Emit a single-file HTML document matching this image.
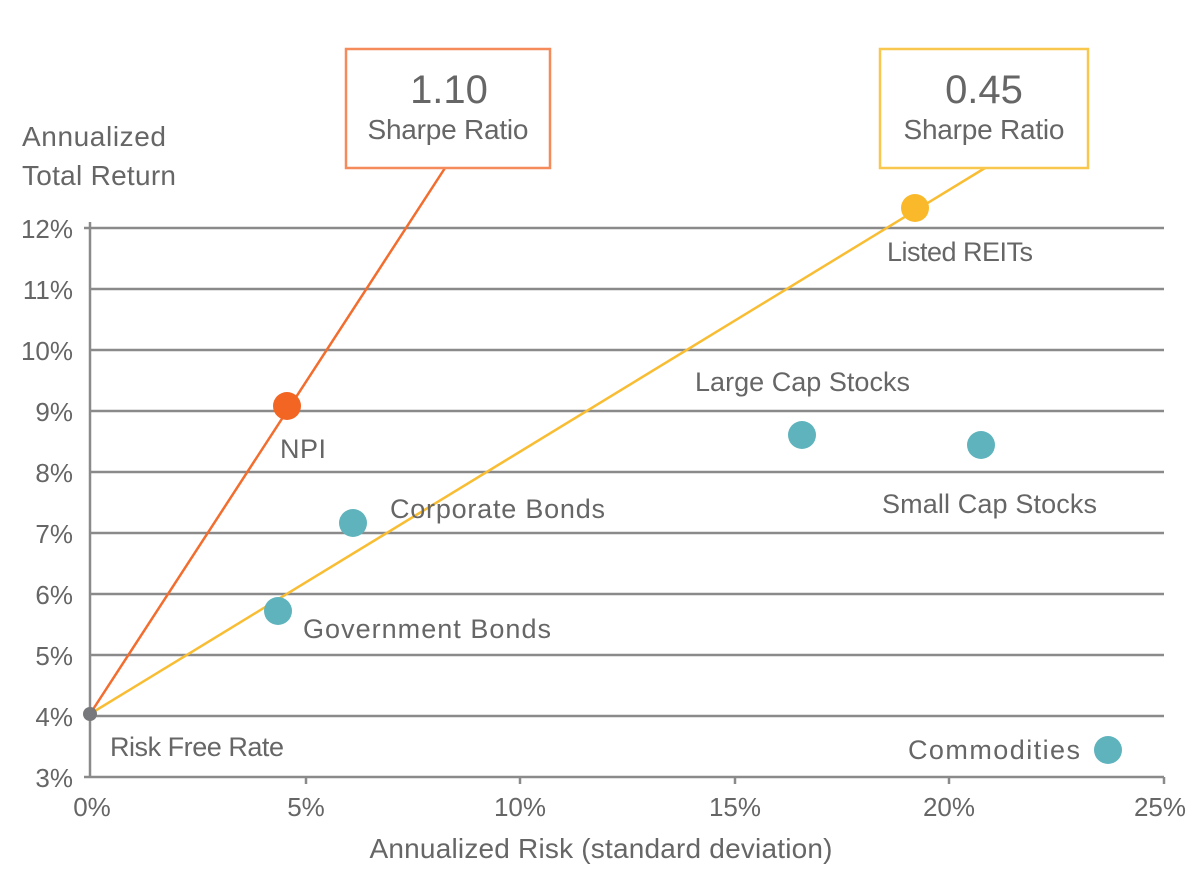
<!DOCTYPE html>
<html><head><meta charset="utf-8"><style>
html,body{margin:0;padding:0;background:#fff;}
svg text{font-family:"Liberation Sans",sans-serif;fill:#666;}
</style></head><body>
<svg width="1200" height="880" viewBox="0 0 1200 880" xmlns="http://www.w3.org/2000/svg">
<g stroke="#8a8a8a" stroke-width="2.5">
<line x1="90" y1="228" x2="1164" y2="228"/>
<line x1="90" y1="289" x2="1164" y2="289"/>
<line x1="90" y1="350" x2="1164" y2="350"/>
<line x1="90" y1="411" x2="1164" y2="411"/>
<line x1="90" y1="472" x2="1164" y2="472"/>
<line x1="90" y1="533" x2="1164" y2="533"/>
<line x1="90" y1="594" x2="1164" y2="594"/>
<line x1="90" y1="655" x2="1164" y2="655"/>
<line x1="90" y1="716" x2="1164" y2="716"/>
<line x1="90" y1="777" x2="1164" y2="777"/>
<line x1="90" y1="222" x2="90" y2="777"/>
<line x1="84" y1="228" x2="90" y2="228"/>
<line x1="84" y1="777" x2="90" y2="777"/>
<line x1="306" y1="777" x2="306" y2="784"/>
<line x1="520" y1="777" x2="520" y2="784"/>
<line x1="735" y1="777" x2="735" y2="784"/>
<line x1="949" y1="777" x2="949" y2="784"/>
<line x1="1164" y1="777" x2="1164" y2="784"/>
</g>
<g font-size="26" text-anchor="end">
<text x="73" y="238">12%</text><text x="73" y="299">11%</text><text x="73" y="360">10%</text>
<text x="73" y="421">9%</text><text x="73" y="482">8%</text><text x="73" y="543">7%</text>
<text x="73" y="604">6%</text><text x="73" y="665">5%</text><text x="73" y="726">4%</text>
<text x="73" y="787">3%</text>
</g>
<g font-size="26" text-anchor="middle">
<text x="92" y="816">0%</text><text x="306" y="816">5%</text><text x="520" y="816">10%</text>
<text x="735" y="816">15%</text><text x="949" y="816">20%</text><text x="1160" y="816">25%</text>
<text x="601" y="858" font-size="28" textLength="463">Annualized Risk (standard deviation)</text>
</g>
<text x="22" y="146" font-size="28" textLength="144">Annualized</text>
<text x="22" y="185" font-size="28" textLength="154">Total Return</text>
<line x1="90" y1="714" x2="445" y2="168" stroke="#f26d2e" stroke-width="2.5"/>
<line x1="90" y1="714" x2="985" y2="168" stroke="#f8bd33" stroke-width="2.5"/>
<rect x="346" y="49" width="204" height="119" fill="#fff" stroke="#f58a5a" stroke-width="2.5"/>
<rect x="880" y="49" width="208" height="119" fill="#fff" stroke="#f8c84e" stroke-width="2.5"/>
<g text-anchor="middle">
<text x="449" y="103" font-size="40">1.10</text>
<text x="448" y="139" font-size="28" textLength="161">Sharpe Ratio</text>
<text x="984" y="103" font-size="40">0.45</text>
<text x="984" y="139" font-size="28" textLength="161">Sharpe Ratio</text>
</g>
<circle cx="90" cy="714" r="7" fill="#77787b"/>
<circle cx="287" cy="406" r="14" fill="#f26522"/>
<circle cx="915" cy="208" r="14" fill="#f9b92b"/>
<g fill="#5fb3bd">
<circle cx="802" cy="435" r="14"/><circle cx="981" cy="445" r="14"/>
<circle cx="353" cy="523" r="14"/><circle cx="278" cy="611" r="14"/>
<circle cx="1108" cy="750" r="14"/>
</g>
<g font-size="27">
<text x="280" y="458" textLength="46">NPI</text>
<text x="887" y="261" textLength="146">Listed REITs</text>
<text x="695" y="391" textLength="215">Large Cap Stocks</text>
<text x="882" y="513" textLength="215">Small Cap Stocks</text>
<text x="390" y="518" textLength="215">Corporate Bonds</text>
<text x="303" y="638" textLength="248">Government Bonds</text>
<text x="908" y="759" textLength="172">Commodities</text>
<text x="110" y="756" textLength="174">Risk Free Rate</text>
</g>
</svg>
</body></html>
